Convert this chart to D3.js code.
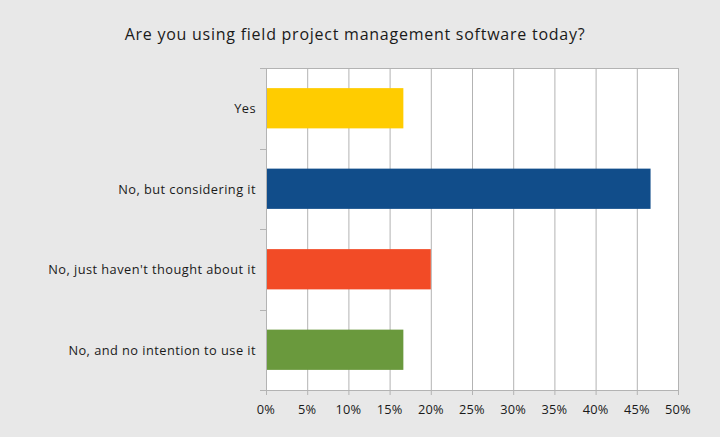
<!DOCTYPE html>
<html><head><meta charset="utf-8">
<script src="https://cdn.jsdelivr.net/npm/d3@7"></script>
<style>body{margin:0;background:#e8e8e8;}svg{display:block;}</style>
</head><body><svg id="c" width="720" height="437"></svg>
<script>
const categories = ["Yes", "No, but considering it", "No, just haven't thought about it", "No, and no intention to use it"];
const values = [16.67, 46.67, 20.0, 16.67];
const colors = ["#ffcc00", "#114d8a", "#f24b26", "#6a993d"];
const xTicks = [0,5,10,15,20,25,30,35,40,45,50];
const title = "Are you using field project management software today?";

const svg = d3.select("#c");
const W = 720, H = 437;
const m = {left: 266, right: 42, top: 68, bottom: 47};
const font = "'Open Sans', 'Noto Sans', sans-serif";
svg.append("rect").attr("width", W).attr("height", H).attr("fill", "#e8e8e8");

const x = d3.scaleLinear().domain([0, 50]).range([m.left, W - m.right]);
const y = d3.scaleBand().domain(categories).range([m.top, H - m.bottom]).paddingInner(0.5).paddingOuter(0.25);
const yb = d3.scaleBand().domain(categories).range([m.top, H - m.bottom]);

svg.append("rect").attr("x", x(0)).attr("y", m.top).attr("width", x(50) - x(0)).attr("height", H - m.bottom - m.top).attr("fill", "#fff");

svg.append("g").selectAll("line").data(xTicks).join("line")
  .attr("x1", d => x(d) + 0.5).attr("x2", d => x(d) + 0.5)
  .attr("y1", m.top).attr("y2", H - m.bottom + 5)
  .attr("stroke", "#b3b3b3").attr("stroke-width", 1);

svg.append("line").attr("x1", x(0) - 6).attr("x2", x(50) + 0.5).attr("y1", m.top + 0.5).attr("y2", m.top + 0.5).attr("stroke", "#b3b3b3");
svg.append("line").attr("x1", x(0)).attr("x2", x(50) + 0.5).attr("y1", H - m.bottom + 0.5).attr("y2", H - m.bottom + 0.5).attr("stroke", "#b3b3b3");
svg.append("g").selectAll("line").data(categories.slice(1)).join("line")
  .attr("x1", x(0) - 6).attr("x2", x(0))
  .attr("y1", d => Math.round(yb(d)) + 0.5).attr("y2", d => Math.round(yb(d)) + 0.5)
  .attr("stroke", "#b3b3b3");
svg.append("line").attr("x1", x(0) - 6).attr("x2", x(0)).attr("y1", H - m.bottom + 0.5).attr("y2", H - m.bottom + 0.5).attr("stroke", "#b3b3b3");

svg.append("g").selectAll("rect").data(categories).join("rect")
  .attr("x", x(0) + 1).attr("y", d => y(d))
  .attr("width", (d, i) => x(values[i]) - x(0) - 1).attr("height", y.bandwidth())
  .attr("fill", (d, i) => colors[i]);

svg.append("g").selectAll("text").data(categories).join("text")
  .attr("x", x(0) - 10).attr("y", d => y(d) + y.bandwidth() / 2)
  .attr("text-anchor", "end").attr("dominant-baseline", "central")
  .attr("font-family", font).attr("font-size", 12.8).attr("letter-spacing", 0.45).attr("fill", "#1a1a1a")
  .text(d => d);

svg.append("g").selectAll("text").data(xTicks).join("text")
  .attr("x", d => x(d)).attr("y", H - m.bottom + 24)
  .attr("text-anchor", "middle")
  .attr("font-family", font).attr("font-size", 12.8).attr("letter-spacing", 0.2).attr("fill", "#1a1a1a")
  .text(d => d + "%");

svg.append("text").attr("x", 355).attr("y", 40).attr("text-anchor", "middle")
  .attr("font-family", font).attr("font-size", 16).attr("letter-spacing", 0.75).attr("fill", "#1a1a1a").text(title);
</script></body></html>
